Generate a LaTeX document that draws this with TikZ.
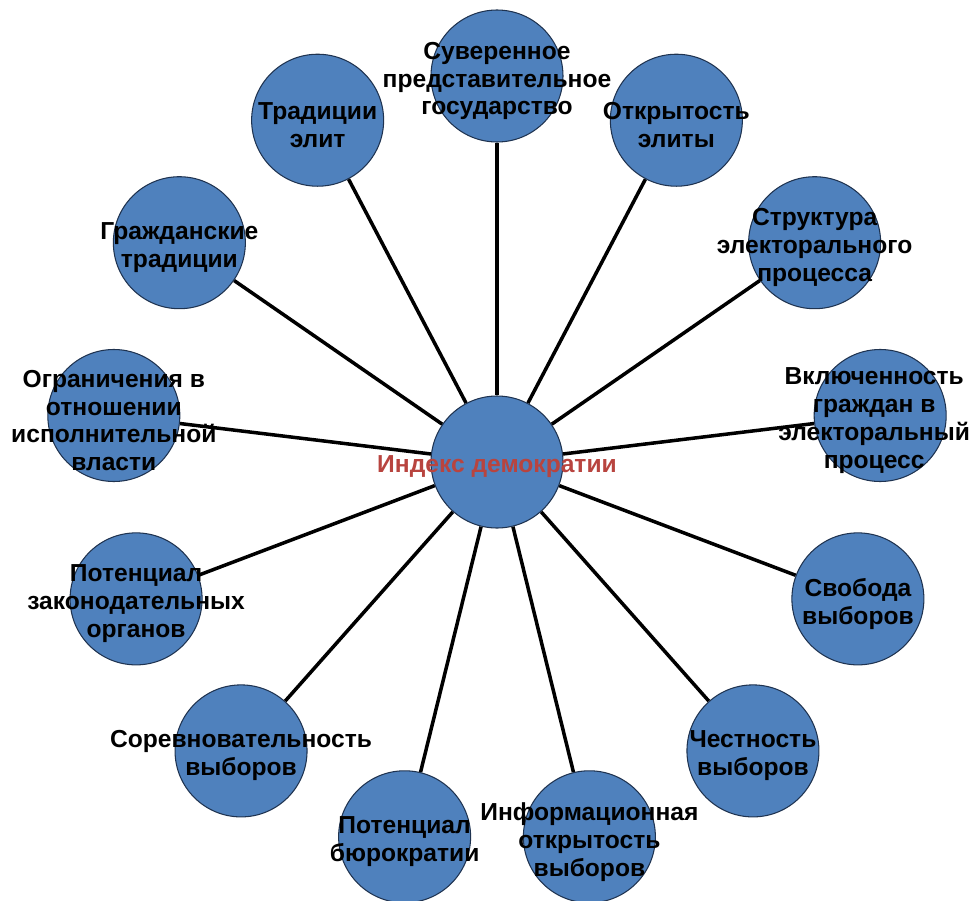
\documentclass[tikz,border=0pt]{standalone}
\usepackage{fontspec}
\setmainfont{Liberation Sans}
\usetikzlibrary{positioning,backgrounds}
\definecolor{idxblue}{HTML}{4F81BD}
\definecolor{idxedge}{HTML}{1F3350}
\definecolor{idxred}{HTML}{B8443F}
\tikzset{
  leaf/.style={circle, draw=idxedge, fill=idxblue, line width=0.6pt, minimum size=26.4mm, inner sep=0pt},
  lbl/.style={align=center, text=black, inner sep=0pt, yshift=-1mm, font=\fontsize{14}{15.9}\selectfont\bfseries},
  hublbl/.style={lbl, text=idxred},
  spoke/.style={line width=2pt, color=black},
}

\begin{document}
\begin{tikzpicture}
    \useasboundingbox (-9.94,-8.76) rectangle (9.52,9.24);
    % hub and its thirteen components, evenly spaced
    \node[leaf, label={[hublbl]center:Индекс демократии}] (idx) at (0,0) {};
    \node[leaf, label={[lbl]center:Суверенное\\представительное\\государство}] (sov) at (90:7.72) {};
    \node[leaf, label={[lbl]center:Открытость\\элиты}] (elopen) at (62.31:7.72) {};
    \node[leaf, label={[lbl]center:Структура\\электорального\\процесса}] (elstruct) at (34.62:7.72) {};
    \node[leaf, label={[lbl, xshift=-1.2mm]center:Включенность\\граждан в\\электоральный\\процесс}] (incl) at (6.92:7.72) {};
    \node[leaf, label={[lbl]center:Свобода\\выборов}] (freedom) at (-20.77:7.72) {};
    \node[leaf, label={[lbl]center:Честность\\выборов}] (fair) at (-48.46:7.72) {};
    \node[leaf, label={[lbl]center:Информационная\\открытость\\выборов}] (info) at (-76.15:7.72) {};
    \node[leaf, label={[lbl]center:Потенциал\\бюрократии}] (bureau) at (-103.85:7.72) {};
    \node[leaf, label={[lbl]center:Соревновательность\\выборов}] (compet) at (-131.54:7.72) {};
    \node[leaf, label={[lbl]center:Потенциал\\законодательных\\органов}] (legis) at (-159.23:7.72) {};
    \node[leaf, label={[lbl]center:Ограничения в\\отношении\\исполнительной\\власти}] (limits) at (173.08:7.72) {};
    \node[leaf, label={[lbl]center:Гражданские\\традиции}] (civic) at (145.38:7.72) {};
    \node[leaf, label={[lbl]center:Традиции\\элит}] (elitetr) at (117.69:7.72) {};
    % spokes
    \begin{scope}[on background layer]
    \draw[spoke] (idx) -- (sov); \draw[spoke] (idx) -- (elopen); \draw[spoke] (idx) -- (elstruct);
    \draw[spoke] (idx) -- (incl); \draw[spoke] (idx) -- (freedom); \draw[spoke] (idx) -- (fair);
    \draw[spoke] (idx) -- (info); \draw[spoke] (idx) -- (bureau); \draw[spoke] (idx) -- (compet);
    \draw[spoke] (idx) -- (legis); \draw[spoke] (idx) -- (limits); \draw[spoke] (idx) -- (civic);
    \draw[spoke] (idx) -- (elitetr);
    \end{scope}
  \end{tikzpicture}
\end{document}
